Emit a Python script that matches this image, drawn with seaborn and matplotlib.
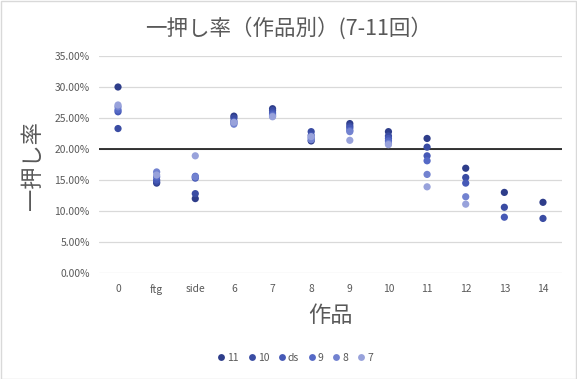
import numpy as np
import pandas as pd
import matplotlib
matplotlib.use("Agg")
import matplotlib.pyplot as plt
import seaborn as sns
from matplotlib.patches import Rectangle
from matplotlib.ticker import FuncFormatter

categories = ["0", "ftg", "side", "6", "7", "8", "9", "10", "11", "12", "13", "14"]
series_names = ["11", "10", "ds", "9", "8", "7"]
nan = np.nan
s11 = [30.0, 14.5, 12.0, 25.3, 26.5, 21.3, 24.1, 22.8, 21.7, 16.9, 13.0, 11.4]
s10 = [23.3, 14.7, 12.8, 25.0, 26.2, 22.8, 23.7, 22.1, 20.3, 15.4, 10.6, 8.8]
sds = [26.0, 15.0, 15.3, 24.5, 25.8, 22.2, 23.4, 21.7, 18.9, 14.5, 9.0, nan]
s9 = [26.3, 15.5, 15.6, 24.2, 25.5, 21.8, 23.0, 21.3, 18.1, nan, nan, nan]
s8 = [26.8, 16.3, 15.5, 24.0, 25.3, 21.5, 22.8, 20.9, 15.9, 12.3, nan, nan]
s7 = [27.1, 15.8, 18.9, 24.3, 25.2, 22.0, 21.4, 20.7, 13.9, 11.1, nan, nan]
reference_line = 20.0
y_ticks = [0, 5, 10, 15, 20, 25, 30, 35]

colors = ["#2E3D8A", "#3A4CA3", "#4659B6", "#5569C6", "#7282D0", "#98A2DB"]

all_series = [s11, s10, sds, s9, s8, s7]
rows = []
for name, vals in zip(series_names, all_series):
    for c, v in zip(categories, vals):
        if not np.isnan(v):
            rows.append({"作品": c, "rate": v / 100.0, "series": name})
df = pd.DataFrame(rows)

sns.set_theme(style="white")
plt.rcParams["font.family"] = ["Noto Sans CJK JP", "DejaVu Sans"]

fig = plt.figure(figsize=(5.77, 3.79), dpi=100)
ax = fig.add_axes([98.7 / 577, 1 - 273 / 379, (562.3 - 98.7) / 577, (273 - 56) / 379])

for yt in y_ticks:
    ax.axhline(yt / 100.0, color="#D9D9D9", lw=0.9, zorder=0)
ax.axhline(reference_line / 100.0, color="black", lw=1.1, zorder=1)

sns.stripplot(data=df, x="作品", y="rate", hue="series", order=categories,
              hue_order=series_names, palette=colors, jitter=False, dodge=False,
              size=5.2, linewidth=0, ax=ax, zorder=3, legend=True)

ax.set_xlim(-0.5, 11.5)
ax.set_ylim(0, 0.35)
ax.set_yticks([t / 100.0 for t in y_ticks])
ax.yaxis.set_major_formatter(FuncFormatter(lambda v, p: f"{v*100:.2f}%"))
for sp in ax.spines.values():
    sp.set_visible(False)
ax.tick_params(axis="both", length=0, labelsize=7.4, colors="#595959")
ax.tick_params(axis="y", pad=6.5)
ax.tick_params(axis="x", pad=8)
ax.set_xlabel("")
ax.set_ylabel("")

fig.text(32 / 577, 1 - 166 / 379, "一押し率", rotation=90, ha="center", va="center",
         fontsize=16, color="#595959")
fig.text(330 / 577, 1 - 316 / 379, "作品", ha="center", va="center",
         fontsize=16, color="#595959")
fig.text(289 / 577, 1 - 28 / 379, "一押し率（作品別）(7-11回）", ha="center", va="center",
         fontsize=15.5, color="#595959")

handles, labels = ax.get_legend_handles_labels()
ax.legend_.remove()
leg = fig.legend(handles, labels, loc="center", bbox_to_anchor=(294 / 577, 1 - 358 / 379),
                 ncol=6, frameon=False, fontsize=7.5, handletextpad=0.0,
                 handlelength=1.2, columnspacing=0.6, markerscale=0.95, borderpad=0)
for t in leg.get_texts():
    t.set_color("#595959")

fig.patches.append(Rectangle((0.001, 0.001), 0.997, 0.997, transform=fig.transFigure,
                             fill=False, edgecolor="#D9D9D9", lw=1.0))
fig.savefig("out.png", dpi=100, facecolor="white")
